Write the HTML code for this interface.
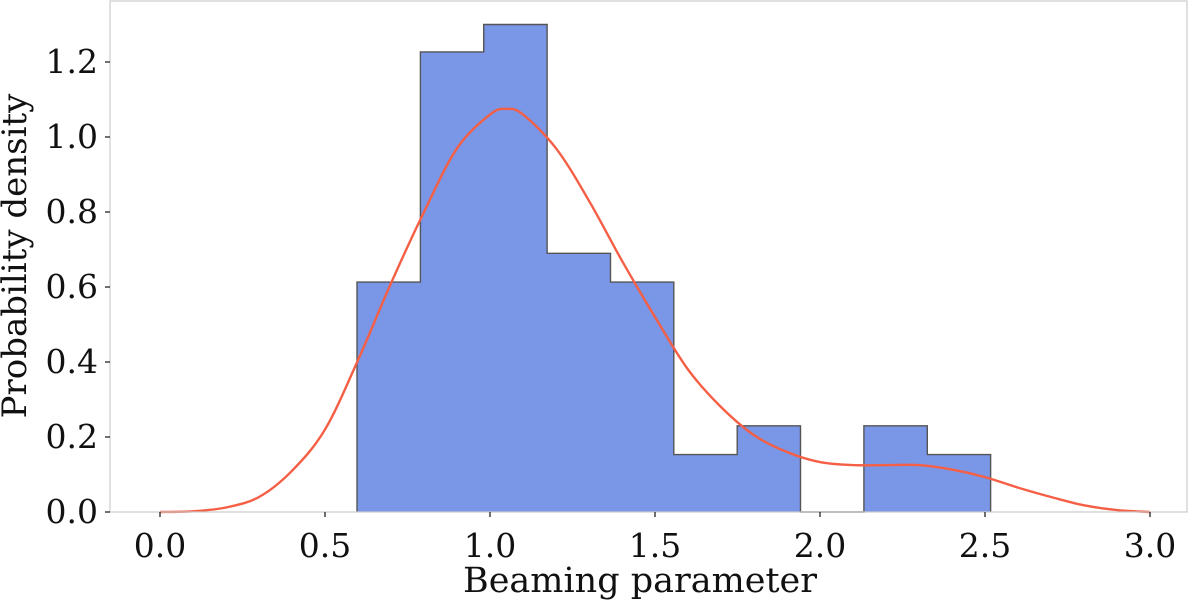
<!DOCTYPE html>
<html><head><meta charset="utf-8"><style>
body{margin:0;background:#fff}
text{font-family:"DejaVu Serif","Liberation Serif",serif;fill:#111}
</style></head><body>
<svg width="1200" height="601" id="chart"></svg>
<script>
const binStart=0.597, binWidth=0.192;
const densities=[0.613,1.227,1.30,0.69,0.613,0.153,0.23,0,0.23,0.153];
const kdeX=[0,0.1,0.2,0.3,0.4,0.5,0.6,0.7,0.8,0.9,1.0,1.05,1.1,1.2,1.3,1.4,1.5,1.6,1.7,1.8,1.9,2.0,2.1,2.2,2.3,2.4,2.5,2.6,2.7,2.8,2.9,3.0];
const kdeY=[0,0.002,0.012,0.04,0.11,0.22,0.405,0.61,0.8,0.97,1.06,1.075,1.06,0.97,0.83,0.67,0.52,0.38,0.28,0.205,0.16,0.133,0.125,0.125,0.125,0.113,0.093,0.065,0.04,0.018,0.005,0];
const xTicks=[0,0.5,1.0,1.5,2.0,2.5,3.0];
const yTicks=[0,0.2,0.4,0.6,0.8,1.0,1.2];
const NS="http://www.w3.org/2000/svg";
const svg=document.getElementById('chart');
const L=110,R=1187,T=1,B=512;
const xs=v=>160+v*330, ys=v=>512-v*375;
function mk(tag,attrs,parent){const e=document.createElementNS(NS,tag);for(const k in attrs)e.setAttribute(k,attrs[k]);(parent||svg).appendChild(e);return e;}
let step='';
densities.forEach((d,i)=>{
 const x0=xs(binStart+i*binWidth),x1=xs(binStart+(i+1)*binWidth);
 step+=(i?'L':'M')+x0.toFixed(1)+','+ys(d).toFixed(1)+' L'+x1.toFixed(1)+','+ys(d).toFixed(1)+' ';
 if(d<=0)return;
 const r=mk('rect',{x:x0,y:ys(d),width:x1-x0+0.5,height:ys(0)-ys(d),fill:'#7a96e6'});
 
 
});
step='M'+xs(binStart).toFixed(1)+','+ys(0)+' '+step.replace(/^M/,'L')+'L'+xs(binStart+densities.length*binWidth).toFixed(1)+','+ys(0);
const so=mk('path',{d:step,fill:'none',stroke:'#555',"stroke-width":1.4});


const pts=kdeX.map((x,i)=>[xs(x),ys(kdeY[i])]);
let dpath='M'+pts[0][0]+','+pts[0][1];
for(let i=0;i<pts.length-1;i++){
 const p0=pts[Math.max(0,i-1)],p1=pts[i],p2=pts[i+1],p3=pts[Math.min(pts.length-1,i+2)];
 const c1=[p1[0]+(p2[0]-p0[0])/6,p1[1]+(p2[1]-p0[1])/6],c2=[p2[0]-(p3[0]-p1[0])/6,p2[1]-(p3[1]-p1[1])/6];
 dpath+=` C${c1[0].toFixed(1)},${c1[1].toFixed(1)} ${c2[0].toFixed(1)},${c2[1].toFixed(1)} ${p2[0].toFixed(1)},${p2[1].toFixed(1)}`;
}
const kp=mk('path',{d:dpath,fill:'none',stroke:'#f55f45',"stroke-width":2.4,"stroke-linejoin":"round"});


const fr=mk('rect',{x:L,y:T,width:R-L,height:B-T,fill:'none',stroke:'#ccc',"stroke-width":1.2});


xTicks.forEach(v=>{
 mk('line',{x1:xs(v),x2:xs(v),y1:B,y2:B+5,stroke:'#111',"stroke-width":1.2});
 const t=mk('text',{x:xs(v),y:557,"text-anchor":"middle","font-size":33});t.textContent=v.toFixed(1);
 
 
});
yTicks.forEach(v=>{
 mk('line',{x1:L-5,x2:L,y1:ys(v),y2:ys(v),stroke:'#111',"stroke-width":1.2});
 const t=mk('text',{x:98,y:ys(v)+11,"text-anchor":"end","font-size":33});t.textContent=v.toFixed(1);
 
 
});
const xt=mk('text',{x:640,y:592,"text-anchor":"middle","font-size":35});xt.textContent='Beaming parameter';


const yt=mk('text',{x:0,y:0,"text-anchor":"middle","font-size":34,transform:'translate(26,256) rotate(-90)'});yt.textContent='Probability density';


</script>
</body></html>
